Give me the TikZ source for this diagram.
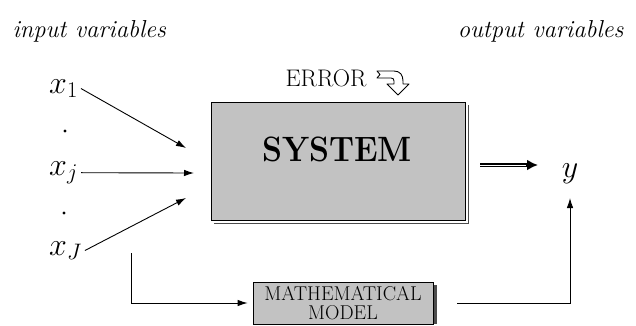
\documentclass[tikz,border=0pt]{standalone}
\usepackage{fix-cm}
\usetikzlibrary{arrows.meta}
\begin{document}
\begin{tikzpicture}[x=1pt,y=-1pt,
  conn/.style={-{Latex[length=10pt,width=6.5pt]}, line width=0.9pt},
  grbox/.style={draw=black, line width=0.8pt, fill=black!24},
  shade/.style={fill=black!70},
  head/.style={font=\itshape\fontsize{24.5}{26}\selectfont},
  var/.style={font=\fontsize{32}{34}\selectfont, inner sep=3pt}]
\useasboundingbox (0,0) rectangle (636,325);
% headings
\node[head, anchor=base west] (inlab) at (9,37) {input variables};
\node[head, anchor=base east] (outlab) at (627,37) {output variables};
% system box
\node[grbox, minimum width=254pt, minimum height=118pt, inner sep=0pt] (sys) at (338,161) {};
\fill[shade] ([shift={(3,3)}]sys.north east) rectangle ([shift={(4,4)}]sys.south east);
\fill[shade] ([shift={(3,3)}]sys.south west) rectangle ([shift={(4,4)}]sys.south east);
\node[font=\bfseries\fontsize{32}{34}\selectfont, yscale=1.1] (systxt) at (337,149) {SYSTEM};
% error
\node[font=\fontsize{24}{26}\selectfont, anchor=base] (err) at (326,86) {ERROR};
\draw[line width=0.9pt, fill=white, line join=round]
  (377,71) -- (394,71) .. controls (400,71) and (403,75) .. (403,81) -- (403,84)
  -- (409,84) -- (398,95) -- (387,84) -- (394,84) -- (394,81)
  .. controls (394,79) and (393,78) .. (391,78) -- (377,78) -- (380,74.5) -- cycle;
% inputs
\node[var, anchor=base west] (x1) at (46,93) {$x_1$};
\node[var, anchor=base west] (xj) at (46,175) {$x_j$};
\node[var, anchor=base west] (xJ) at (46,255) {$x_J$};
\fill (65,131) circle (1.6pt);
\fill (64,213) circle (1.6pt);
\coordinate (a1) at (186,148);
\coordinate (aj) at (194,173);
\coordinate (aJ) at (186,198);
\draw[conn] (x1.east) -- (a1);
\draw[conn] (xj.east) -- (aj);
\draw[conn] (xJ.east) -- (aJ);
% output
\node[var, anchor=base] (y) at (570,177) {$y$};
\coordinate (ds) at (480,165);
\coordinate (de) at (538,165);
\draw[line width=3.2pt, -{Latex[length=11pt,width=11pt]}] (ds) -- (de);
\draw[white, line width=1pt] ([xshift=-1pt]ds) -- ([xshift=-12pt]de);
% model
\node[grbox, minimum width=180pt, minimum height=42pt, inner sep=0pt, align=center,
  font=\fontsize{20}{22}\selectfont] (model) at (343,303) {MATHEMATICAL\\[-3pt]MODEL};
\fill[shade] ([shift={(1,3)}]model.north east) rectangle ([shift={(4,0)}]model.south east);
\coordinate (m0) at (131,253);
\draw[conn, shorten >=5pt] (m0) |- (model.west);
\coordinate (mo) at (457,303);
\coordinate (yin) at (570,198);
\draw[conn] (mo) -| (yin);
\end{tikzpicture}
\end{document}
